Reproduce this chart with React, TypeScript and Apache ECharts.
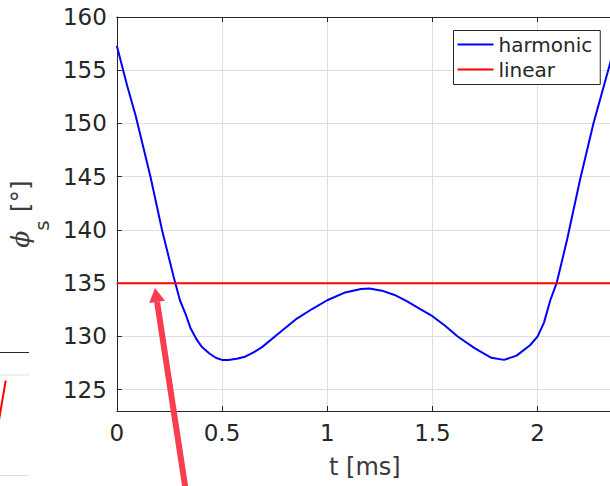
import React, { useEffect, useRef } from "react";
import * as echarts from "echarts";

const tValues = [0, 0.05, 0.09, 0.16, 0.215, 0.27, 0.3, 0.325, 0.35, 0.38, 0.405, 0.44, 0.47, 0.5, 0.53, 0.57, 0.61, 0.65, 0.69, 0.77, 0.85, 0.93, 1.0, 1.08, 1.16, 1.2, 1.26, 1.32, 1.38, 1.44, 1.5, 1.56, 1.62, 1.7, 1.78, 1.84, 1.9, 1.965, 2.0, 2.03, 2.06, 2.09, 2.14, 2.2, 2.265, 2.345, 2.4];
const harmonicValues = [157.3, 153.5, 150.7, 145.0, 140.0, 135.6, 133.4, 132.2, 130.8, 129.7, 129.0, 128.4, 128.0, 127.8, 127.8, 127.9, 128.1, 128.5, 129.0, 130.3, 131.6, 132.6, 133.4, 134.1, 134.45, 134.5, 134.3, 133.9, 133.3, 132.6, 131.9, 131.0, 130.0, 128.9, 128.0, 127.8, 128.2, 129.2, 130.0, 131.3, 133.4, 135.0, 139.1, 144.6, 150.0, 155.7, 159.5];
const linearT = [0, 2.4];
const linearValues = [135, 135];
const yTicks = [125, 130, 135, 140, 145, 150, 155, 160];
const seriesNames = ["harmonic", "linear"];

const FONT = "DejaVu Sans";
const INK = "#262626";
const LABEL = "#3a3a3a";
const GRID = "#DFDFDF";
const X_MAX = 2.358;

export default function App() {
  const ref = useRef<HTMLDivElement>(null);
  useEffect(() => {
    if (!ref.current) return;
    const chart = echarts.init(ref.current, null, { renderer: "svg" });
    const arrowTip = [155, 288];
    const arrowTail = [186, 492];
    const dx = arrowTip[0] - arrowTail[0];
    const dy = arrowTip[1] - arrowTail[1];
    const len = Math.sqrt(dx * dx + dy * dy);
    const ux = dx / len, uy = dy / len;
    const bx = arrowTip[0] - 14 * ux, by = arrowTip[1] - 14 * uy;
    const px = -uy, py = ux;
    chart.setOption({
      animation: false,
      backgroundColor: "#ffffff",
      textStyle: { fontFamily: FONT },
      grid: { left: 114.5, top: 17, width: 498.5, height: 394, containLabel: false },
      legend: {
        orient: "vertical",
        left: 453.5,
        top: 30.5,
        icon: "rect",
        itemWidth: 36,
        itemHeight: 2,
        itemGap: 5,
        padding: [4, 8, 5, 4],
        borderColor: INK,
        borderWidth: 1,
        borderRadius: 0,
        backgroundColor: "#ffffff",
        textStyle: { fontSize: 20, fontFamily: FONT, color: INK, lineHeight: 20 },
        data: seriesNames,
      },
      xAxis: [
        {
          type: "value",
          min: 0,
          max: X_MAX,
          interval: 0.5,
          position: "bottom",
          name: "t [ms]",
          nameLocation: "middle",
          nameGap: 44,
          nameTextStyle: { fontSize: 24, fontFamily: FONT, color: LABEL },
          axisLine: { show: true, lineStyle: { color: INK, width: 1 } },
          axisTick: { show: true, inside: true, length: 5, lineStyle: { color: INK } },
          axisLabel: { fontSize: 23, fontFamily: FONT, color: INK, margin: 10, showMaxLabel: false },
          splitLine: { show: true, lineStyle: { color: GRID, width: 1 } },
        },
        {
          type: "value",
          min: 0,
          max: X_MAX,
          interval: 0.5,
          position: "top",
          axisLine: { show: true, lineStyle: { color: INK, width: 1 } },
          axisTick: { show: true, inside: true, length: 5, lineStyle: { color: INK } },
          axisLabel: { show: false },
          splitLine: { show: false },
        },
      ],
      yAxis: {
        type: "value",
        min: 123,
        max: 160,
        name: "{phi|ϕ}{sub|s}{txt| [°]}",
        nameLocation: "middle",
        nameRotate: 90,
        nameGap: 62,
        nameTextStyle: {
          color: LABEL,
          fontFamily: FONT,
          rich: {
            phi: { fontSize: 25, fontStyle: "italic", fontFamily: "DejaVu Serif", color: LABEL, lineHeight: 30, verticalAlign: "top" },
            sub: { fontSize: 20, fontFamily: FONT, color: LABEL, lineHeight: 20, padding: [24, 0, 0, 0], verticalAlign: "top" },
            txt: { fontSize: 25, fontFamily: FONT, color: LABEL, lineHeight: 30, verticalAlign: "top" },
          },
        },
        axisLine: { show: true, lineStyle: { color: INK, width: 1 } },
        axisTick: { show: true, inside: true, length: 5, lineStyle: { color: INK }, customValues: yTicks },
        axisLabel: { fontSize: 23, fontFamily: FONT, color: INK, margin: 10, customValues: yTicks },
        splitLine: { show: true, lineStyle: { color: GRID, width: 1 } },
      },
      series: [
        {
          name: seriesNames[0],
          type: "line",
          showSymbol: false,
          symbol: "none",
          data: tValues.map((t, i) => [t, harmonicValues[i]]),
          lineStyle: { color: "#0000FF", width: 2 },
          itemStyle: { color: "#0000FF" },
        },
        {
          name: seriesNames[1],
          type: "line",
          showSymbol: false,
          symbol: "none",
          data: linearT.map((t, i) => [t, linearValues[i]]),
          lineStyle: { color: "#FF0000", width: 2 },
          itemStyle: { color: "#FF0000" },
        },
      ],
      graphic: [
        { type: "line", shape: { x1: 0, y1: 352.5, x2: 29, y2: 352.5 }, style: { stroke: INK, lineWidth: 1 } },
        { type: "line", shape: { x1: 0, y1: 375, x2: 29, y2: 375 }, style: { stroke: GRID, lineWidth: 1 } },
        { type: "line", shape: { x1: 0, y1: 475.5, x2: 29, y2: 475.5 }, style: { stroke: GRID, lineWidth: 1 } },
        { type: "line", shape: { x1: -1, y1: 420, x2: 5.7, y2: 380.7 }, style: { stroke: "#FF0000", lineWidth: 2 } },
        {
          type: "line",
          shape: { x1: arrowTail[0], y1: arrowTail[1], x2: bx, y2: by },
          style: { stroke: "#FA3C50", lineWidth: 6 },
          z: 100,
        },
        {
          type: "polygon",
          shape: {
            points: [
              [arrowTip[0], arrowTip[1]],
              [bx + 8 * px, by + 8 * py],
              [bx - 8 * px, by - 8 * py],
            ],
          },
          style: { fill: "#FA3C50" },
          z: 100,
        },
      ],
    });
    return () => chart.dispose();
  }, []);
  return (
    <div style={{ position: "fixed", left: 0, top: 0, width: 610, height: 486, overflow: "hidden", background: "#fff" }}>
      <div ref={ref} style={{ width: 640, height: 486 }} />
    </div>
  );
}
